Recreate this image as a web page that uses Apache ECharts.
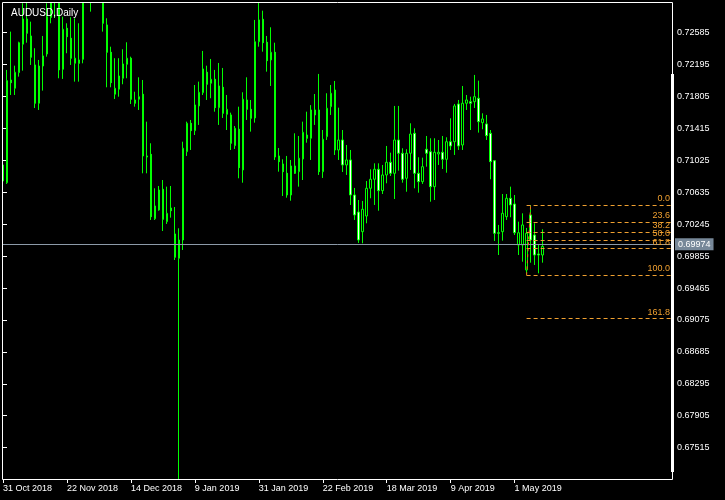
<!DOCTYPE html>
<html>
<head>
<meta charset="utf-8">
<script src="https://cdn.jsdelivr.net/npm/echarts@6/dist/echarts.min.js"></script>
<style>
html,body{margin:0;padding:0;background:#000;}
#chart{width:725px;height:500px;}
</style>
</head>
<body>
<div id="chart"></div>
<script>
const symbolTitle = 'AUDUSD,Daily';

const dates = [
'31 Oct 2018','1 Nov 2018','2 Nov 2018','5 Nov 2018','6 Nov 2018','7 Nov 2018','8 Nov 2018','9 Nov 2018',
'12 Nov 2018','13 Nov 2018','14 Nov 2018','15 Nov 2018','16 Nov 2018','19 Nov 2018','20 Nov 2018','21 Nov 2018',
'22 Nov 2018','23 Nov 2018','26 Nov 2018','27 Nov 2018','28 Nov 2018','29 Nov 2018','30 Nov 2018','3 Dec 2018',
'4 Dec 2018','5 Dec 2018','6 Dec 2018','7 Dec 2018','10 Dec 2018','11 Dec 2018','12 Dec 2018','13 Dec 2018',
'14 Dec 2018','17 Dec 2018','18 Dec 2018','19 Dec 2018','20 Dec 2018','21 Dec 2018','24 Dec 2018','26 Dec 2018',
'27 Dec 2018','28 Dec 2018','31 Dec 2018','2 Jan 2019','3 Jan 2019','4 Jan 2019','7 Jan 2019','8 Jan 2019',
'9 Jan 2019','10 Jan 2019','11 Jan 2019','14 Jan 2019','15 Jan 2019','16 Jan 2019','17 Jan 2019','18 Jan 2019',
'21 Jan 2019','22 Jan 2019','23 Jan 2019','24 Jan 2019','25 Jan 2019','28 Jan 2019','29 Jan 2019','30 Jan 2019',
'31 Jan 2019','1 Feb 2019','4 Feb 2019','5 Feb 2019','6 Feb 2019','7 Feb 2019','8 Feb 2019','11 Feb 2019',
'12 Feb 2019','13 Feb 2019','14 Feb 2019','15 Feb 2019','18 Feb 2019','19 Feb 2019','20 Feb 2019','21 Feb 2019',
'22 Feb 2019','25 Feb 2019','26 Feb 2019','27 Feb 2019','28 Feb 2019','1 Mar 2019','4 Mar 2019','5 Mar 2019',
'6 Mar 2019','7 Mar 2019','8 Mar 2019','11 Mar 2019','12 Mar 2019','13 Mar 2019','14 Mar 2019','15 Mar 2019',
'18 Mar 2019','19 Mar 2019','20 Mar 2019','21 Mar 2019','22 Mar 2019','25 Mar 2019','26 Mar 2019','27 Mar 2019',
'28 Mar 2019','29 Mar 2019','1 Apr 2019','2 Apr 2019','3 Apr 2019','4 Apr 2019','5 Apr 2019','8 Apr 2019',
'9 Apr 2019','10 Apr 2019','11 Apr 2019','12 Apr 2019','15 Apr 2019','16 Apr 2019','17 Apr 2019','18 Apr 2019',
'19 Apr 2019','22 Apr 2019','23 Apr 2019','24 Apr 2019','25 Apr 2019','26 Apr 2019','29 Apr 2019','30 Apr 2019',
'1 May 2019','2 May 2019','3 May 2019','6 May 2019','7 May 2019','8 May 2019','9 May 2019','10 May 2019'
];

const opens = [
0.70773,0.70752,0.72007,0.71906,0.72097,0.72444,0.72753,0.72545,0.72191,0.71723,
0.72301,0.72325,0.72770,0.73000,0.72945,0.72138,0.72639,0.72517,0.72211,0.72252,
0.72260,0.73200,0.73100,0.73400,0.73700,0.73300,0.72680,0.72346,0.71833,0.71894,
0.72028,0.72199,0.72273,0.71763,0.71772,0.71833,0.71079,0.71099,0.70312,0.70419,
0.70672,0.70276,0.70443,0.70126,0.69829,0.70052,0.71131,0.71478,0.71388,0.71690,
0.71852,0.72102,0.71967,0.72016,0.71669,0.71918,0.71588,0.71580,0.71205,0.71405,
0.70908,0.71763,0.71649,0.71543,0.72475,0.72749,0.72468,0.72252,0.72346,0.71079,
0.70981,0.70867,0.70602,0.70957,0.70887,0.71042,0.71335,0.71295,0.71641,0.71641,
0.70887,0.71315,0.71681,0.71885,0.71152,0.71274,0.70969,0.71030,0.70602,0.70394,
0.70154,0.70345,0.70684,0.70794,0.70916,0.70655,0.70847,0.71002,0.70867,0.71274,
0.71112,0.70806,0.71112,0.71356,0.70867,0.70765,0.71161,0.71131,0.70704,0.71103,
0.71124,0.71038,0.71253,0.71253,0.71714,0.71213,0.71723,0.71742,0.71742,0.71784,
0.71486,0.71470,0.71356,0.71021,0.70141,0.70154,0.70337,0.70562,0.70492,0.69991,
0.69991,0.69686,0.70358,0.70113,0.69881,0.69869
];
const closes = [
0.70969,0.71999,0.71974,0.72102,0.72463,0.72753,0.72578,0.72285,0.71723,0.72178,
0.72178,0.72781,0.73050,0.73030,0.72130,0.72627,0.72536,0.72273,0.72273,0.72211,
0.73200,0.73100,0.73150,0.73700,0.73300,0.72700,0.72346,0.71974,0.71906,0.72056,
0.72203,0.72273,0.71772,0.71723,0.71803,0.71079,0.71066,0.70337,0.70468,0.70663,
0.70305,0.70378,0.70410,0.69841,0.70052,0.71173,0.71478,0.71388,0.71702,0.71857,
0.72142,0.71955,0.72016,0.71669,0.71934,0.71600,0.71649,0.71234,0.71417,0.70936,
0.71772,0.71649,0.71539,0.72475,0.72741,0.72463,0.72243,0.72346,0.71066,0.71009,
0.70887,0.70602,0.70957,0.70867,0.71051,0.71368,0.71295,0.71641,0.71580,0.70887,
0.71283,0.71662,0.71845,0.71152,0.71274,0.70969,0.71030,0.70602,0.70358,0.70052,
0.70427,0.70684,0.70794,0.70916,0.70655,0.70847,0.71002,0.70867,0.71274,0.71112,
0.70794,0.71112,0.71347,0.70867,0.70765,0.70948,0.71112,0.70704,0.71124,0.71124,
0.71038,0.71253,0.71201,0.71690,0.71201,0.71723,0.71763,0.71723,0.71803,0.71498,
0.71531,0.71327,0.71009,0.70134,0.70134,0.70378,0.70562,0.70480,0.70141,0.70141,
0.70236,0.70134,0.70052,0.69869,0.69869,0.69974
];
const lows = [
0.70749,0.70737,0.71824,0.71824,0.72048,0.72121,0.72463,0.72191,0.71665,0.71641,
0.71877,0.72292,0.72700,0.72765,0.72028,0.72020,0.72334,0.72191,0.71987,0.71987,
0.72211,0.73000,0.72842,0.73200,0.73100,0.72598,0.71918,0.71918,0.71775,0.71803,
0.71955,0.72028,0.71714,0.71681,0.71641,0.70867,0.70867,0.70297,0.70297,0.70410,
0.70162,0.70248,0.70325,0.69808,0.67132,0.69930,0.71079,0.71152,0.71335,0.71458,
0.71824,0.71763,0.71784,0.71620,0.71458,0.71543,0.71396,0.71152,0.71164,0.70806,
0.70752,0.71519,0.71376,0.71486,0.72414,0.72353,0.72109,0.71934,0.71030,0.70887,
0.70590,0.70569,0.70532,0.70859,0.70704,0.70785,0.71241,0.71030,0.71458,0.70847,
0.70810,0.71274,0.71580,0.71091,0.71030,0.70883,0.70847,0.70480,0.70297,0.70016,
0.70012,0.70256,0.70562,0.70480,0.70410,0.70614,0.70745,0.70834,0.70553,0.70899,
0.70752,0.70642,0.70908,0.70684,0.70630,0.70737,0.70948,0.70520,0.70541,0.70969,
0.70920,0.70874,0.71152,0.71091,0.71152,0.71152,0.71641,0.71396,0.71665,0.71364,
0.71405,0.71274,0.70794,0.70040,0.69869,0.70044,0.70297,0.70330,0.70113,0.69869,
0.69787,0.69621,0.69775,0.69747,0.69645,0.69775
];
const highs = [
0.71042,0.72130,0.72598,0.72182,0.72475,0.72945,0.73020,0.72720,0.72395,0.72252,
0.72545,0.72945,0.73180,0.73200,0.73050,0.72781,0.72700,0.72774,0.72761,0.72700,
0.73300,0.73400,0.73350,0.73940,0.73900,0.73400,0.72761,0.72414,0.72273,0.72273,
0.72383,0.72468,0.72292,0.71864,0.72040,0.72007,0.71498,0.71234,0.70684,0.70712,
0.70785,0.70704,0.70712,0.70455,0.70195,0.71253,0.71498,0.71519,0.71946,0.71987,
0.72362,0.72182,0.72264,0.72130,0.72215,0.72154,0.71824,0.71608,0.71445,0.71681,
0.71857,0.72040,0.71763,0.72741,0.72952,0.72854,0.72545,0.72651,0.72463,0.71176,
0.71038,0.71079,0.71030,0.71356,0.71323,0.71498,0.71620,0.71700,0.71836,0.72081,
0.71396,0.71845,0.71946,0.71995,0.71669,0.71396,0.71213,0.71152,0.70688,0.70541,
0.70529,0.70773,0.70916,0.70989,0.70989,0.70969,0.71201,0.71119,0.71690,0.71690,
0.71173,0.71161,0.71478,0.71417,0.71063,0.71058,0.71323,0.71295,0.71295,0.71274,
0.71323,0.71307,0.71539,0.71714,0.71763,0.71934,0.71824,0.71803,0.72069,0.71999,
0.71600,0.71580,0.71396,0.71030,0.70236,0.70614,0.70614,0.70704,0.70602,0.70276,
0.70378,0.70199,0.70476,0.70256,0.69991,0.70183
];

const xTickLabels = ['31 Oct 2018','22 Nov 2018','14 Dec 2018','9 Jan 2019','31 Jan 2019','22 Feb 2019','18 Mar 2019','9 Apr 2019','1 May 2019'];
const yTickLabels = ['0.67515','0.67905','0.68295','0.68685','0.69075','0.69465','0.69855','0.70245','0.70635','0.71025','0.71415','0.71805','0.72195','0.72585'];
const fibLevels = [0.0, 23.6, 38.2, 50.0, 61.8, 100.0, 161.8];
const fibLowBar = 131;
const fibHighBar = 132;
const bidPrice = 0.69974;
const priceMin = 0.67132;
const priceMax = 0.72960;
const barsVisibleFrom = -0.125;
const barsVisibleTo = 167.375;

const ohlc = dates.map((d, i) => [i, opens[i], closes[i], lows[i], highs[i]]);
const xTickIdx = xTickLabels.map(s => dates.indexOf(s));
const yTickVals = yTickLabels.map(Number);

const fibLow = lows[fibLowBar];
const fibHigh = highs[fibHighBar];
const fibColor = '#f0a030';
const fibData = fibLevels.map(l => {
  const p = fibHigh - (l / 100) * (fibHigh - fibLow);
  return [{name: l.toFixed(1), coord: [fibLowBar, p]}, {coord: [barsVisibleTo, p]}];
});
fibData.push([
  {name: '', coord: [fibLowBar, fibLow], label: {show: false}, lineStyle: {color: '#ff5a1e', type: [3, 3]}},
  {coord: [fibHighBar, fibHigh]}
]);

const FONT = 'Liberation Sans';
const chart = echarts.init(document.getElementById('chart'), null, {renderer: 'canvas'});

chart.setOption({
  backgroundColor: '#000000',
  animation: false,
  title: {
    text: symbolTitle, left: 6, top: 3,
    textStyle: {color: '#ffffff', fontSize: 10, fontWeight: 'normal', fontFamily: FONT}
  },
  grid: {left: 2, top: 2, right: 53, bottom: 21, show: false},
  xAxis: {
    type: 'value', min: barsVisibleFrom, max: barsVisibleTo,
    axisLine: {show: false},
    axisTick: {show: true, customValues: xTickIdx, length: 4, lineStyle: {color: '#ffffff'}},
    axisLabel: {
      customValues: xTickIdx, align: 'left', margin: 5, color: '#ffffff', fontSize: 9, fontFamily: FONT,
      showMinLabel: true, showMaxLabel: true, hideOverlap: false,
      formatter: v => { const i = Math.round(v); return xTickIdx.indexOf(i) >= 0 ? dates[i] : ''; }
    },
    splitLine: {show: false}
  },
  yAxis: {
    type: 'value', position: 'right', min: priceMin, max: priceMax,
    axisLine: {show: false},
    axisTick: {show: true, customValues: yTickVals, length: 4, lineStyle: {color: '#ffffff'}},
    axisLabel: {
      customValues: yTickVals, margin: 5, color: '#ffffff', fontSize: 9, fontFamily: FONT,
      showMinLabel: true, showMaxLabel: true,
      formatter: v => { const s = v.toFixed(5); return yTickLabels.indexOf(s) >= 0 ? s : ''; }
    },
    splitLine: {show: false}
  },
  series: [
    {
      type: 'line', data: [], z: 1, silent: true,
      markLine: {
        symbol: 'none', silent: true, animation: false,
        lineStyle: {color: '#8c9aa8', type: 'solid', width: 1},
        label: {
          show: true, position: 'end', distance: 3,
          formatter: bidPrice.toFixed(5),
          color: '#ffffff', backgroundColor: '#778899', padding: [2, 3, 1, 3],
          fontSize: 9, fontFamily: FONT
        },
        data: [{yAxis: bidPrice}]
      }
    },
    {
      type: 'candlestick', data: ohlc, z: 2, barWidth: 2,
      encode: {x: 0, y: [1, 2, 3, 4]},
      itemStyle: {color: '#000000', color0: '#ffffff', borderColor: '#00ff00', borderColor0: '#00ff00', borderWidth: 1}
    },
    {
      type: 'line', data: [], z: 3, silent: true,
      markLine: {
        symbol: 'none', silent: true, animation: false,
        lineStyle: {color: fibColor, type: [4, 3], width: 1},
        label: {
          show: true, position: 'insideEndTop', distance: [2, 2],
          formatter: '{b}', color: fibColor, fontSize: 9, fontFamily: FONT
        },
        data: fibData
      }
    }
  ],
  graphic: [
    {type: 'rect', z: 100, silent: true, shape: {x: 0, y: 0, width: 725, height: 2}, style: {fill: '#000000'}},
    {type: 'rect', z: 100, silent: true, shape: {x: 0, y: 0, width: 2, height: 480}, style: {fill: '#000000'}},
    {type: 'rect', z: 101, silent: true, shape: {x: 2.5, y: 2.5, width: 670, height: 477}, style: {fill: null, stroke: '#ffffff', lineWidth: 1}},
    {type: 'rect', z: 101, silent: true, shape: {x: 671, y: 74, width: 3, height: 398}, style: {fill: '#ffffff'}}
  ]
});
</script>
</body>
</html>
